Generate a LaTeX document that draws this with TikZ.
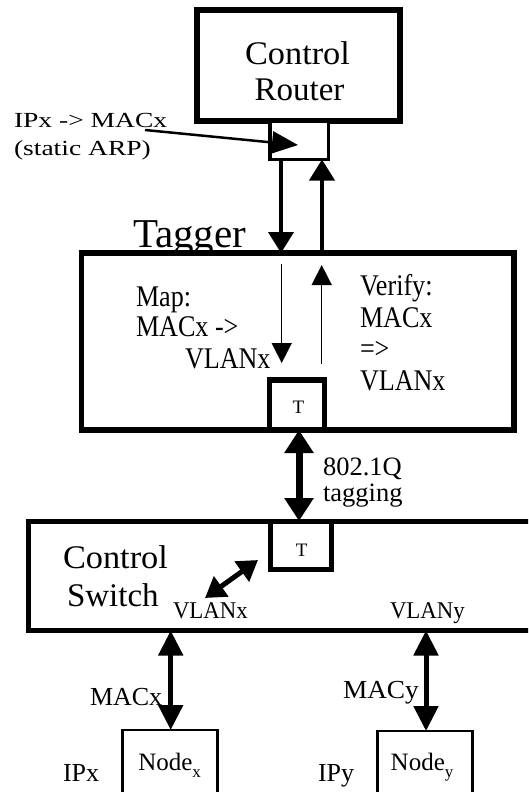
\documentclass[tikz,border=0pt]{standalone}
\usepackage{fontspec}
\usepackage{graphicx}
\setmainfont{Liberation Serif}
\usetikzlibrary{arrows.meta}
\newcommand{\myfs}[1]{\fontsize{#1}{#1}\selectfont}
\newcommand{\hsc}[2]{\scalebox{#1}[1]{#2}}
\newcommand{\mysub}[1]{\raisebox{-0.28em}{\fontsize{17}{17}\selectfont #1}}
\begin{document}
\begin{tikzpicture}[x=1pt,y=-1pt,
  frame/.style={draw, line width=#1, inner sep=0pt, outer sep=0pt, fill=white},
  lbl/.style={inner sep=0pt, outer sep=0pt, anchor=base west},
  clbl/.style={inner sep=0pt, outer sep=0pt, anchor=base},
  bigarrow/.style={line width=4pt, -{Triangle[length=21pt,width=25pt]}},
  thinarrow/.style={line width=1.5pt, -{Triangle[length=20pt,width=20pt]}},
  dblarrow/.style={line width=#1, {Triangle[length=23pt,width=28pt]}-{Triangle[length=23pt,width=28pt]}}
]
\useasboundingbox (0,0) rectangle (528,792);
\clip (0,0) rectangle (528,792);
\fill[white] (0,0) rectangle (528,792);

% boxes
\node[frame=5.5pt, minimum width=203pt, minimum height=111pt] (router) at (298.5,65.5) {};
\node[frame=3.5pt, minimum width=58.5pt, minimum height=38.5pt] (rport) at (299.25,140.25) {};
\node[frame=5.5pt, minimum width=432.5pt, minimum height=177pt] (tagger) at (297.75,341.5) {};
\node[frame=5.5pt, minimum width=55pt, minimum height=50pt] (tagT) at (297.2,405) {};
\node[frame=5pt, minimum width=511.5pt, minimum height=109.5pt] (switch) at (284.25,575.75) {};
\node[frame=5pt, minimum width=61pt, minimum height=48pt] (swT) at (300.5,545) {};
\node[frame=2.5pt, minimum width=95.4pt, minimum height=70pt] (nodeX) at (170,765) {};
\node[frame=2.5pt, minimum width=95pt, minimum height=69pt] (nodeY) at (424.8,765.5) {};

% texts
\node[clbl] (rt1) at (297.5,64.3) {\myfs{33}\hsc{1.04}{Control}};
\node[clbl] (rt2) at (299.5,100) {\myfs{33}Router};
\node[lbl] (arp1) at (14,127) {\myfs{21.5}\hsc{1.28}{IPx -> MACx}};
\node[lbl] (arp2) at (14,155) {\myfs{21.5}\hsc{1.28}{(static ARP)}};
\node[lbl] (tg) at (133,247) {\myfs{41}Tagger};
\node[lbl] (map1) at (136,306.7) {\myfs{30}\hsc{0.87}{Map:}};
\node[lbl] (map2) at (136,336.7) {\myfs{30}\hsc{0.87}{MACx ->}};
\node[lbl] (map3) at (185,368) {\myfs{30}\hsc{0.87}{VLANx}};
\node[lbl] (ver1) at (360,295) {\myfs{30}\hsc{0.87}{Verify:}};
\node[lbl] (ver2) at (360,327.7) {\myfs{30}\hsc{0.87}{MACx}};
\node[lbl] (ver3) at (360,358) {\myfs{30}\hsc{0.87}{=>}};
\node[lbl] (ver4) at (360,390) {\myfs{30}\hsc{0.87}{VLANx}};
\node[clbl] (tT) at (298.3,413) {\myfs{19}T};
\node[clbl] (sT) at (301.7,556.5) {\myfs{19}T};
\node[lbl] (q1) at (323,475) {\myfs{26.5}802.1Q};
\node[lbl] (q2) at (323,501) {\myfs{26.5}tagging};
\node[lbl] (cs1) at (63,568) {\myfs{33}\hsc{1.04}{Control}};
\node[lbl] (cs2) at (67,606.7) {\myfs{33}Switch};
\node[lbl] (vx) at (173,618) {\myfs{24}\hsc{0.95}{VLANx}};
\node[lbl] (vy) at (390,618) {\myfs{24}\hsc{0.95}{VLANy}};
\node[lbl] (mx) at (90,705) {\myfs{26}MACx};
\node[lbl] (my) at (343,698.5) {\myfs{26}\hsc{1.05}{MACy}};
\node[lbl] (nx) at (138.3,770) {\myfs{25}Node\mysub{x}};
\node[lbl] (ny) at (390.7,770) {\myfs{25}Node\mysub{y}};
\node[lbl] (ipx) at (63,781.7) {\myfs{26}IPx};
\node[lbl] (ipy) at (318,781.7) {\myfs{26}IPy};

% connectors
\coordinate (arpS) at (145,130);
\coordinate (arpE) at (298,145);
\draw[line width=2.5pt, -{Triangle[length=26pt,width=22pt]}] (arpS) -- (arpE);

\coordinate (xd) at (281,0);
\coordinate (xu) at (322,0);
\draw[bigarrow] (rport.south -| xd) -- (tagger.north -| xd);
\draw[bigarrow] (tagger.north -| xu) -- (rport.south -| xu);

\coordinate (md1) at (281.7,264);
\coordinate (md2) at (281.7,363);
\coordinate (vu1) at (321.7,364);
\coordinate (vu2) at (321.7,265);
\draw[thinarrow] (md1) -- (md2);
\draw[thinarrow] (vu1) -- (vu2);

\coordinate (xq) at (299,0);
\draw[dblarrow=7pt] (tagger.south -| xq) -- (switch.north -| xq);

\coordinate (dg1) at (258,560);
\coordinate (dg2) at (205,598);
\draw[line width=5pt, {Triangle[length=20pt,width=24pt]}-{Triangle[length=20pt,width=24pt]}] (dg1) -- (dg2);

\coordinate (xx) at (170.7,0);
\coordinate (xy) at (426,0);
\draw[line width=5pt, {Triangle[length=25pt,width=24pt]}-{Triangle[length=25pt,width=24pt]}] (switch.south -| xx) -- (nodeX.north -| xx);
\draw[line width=5pt, {Triangle[length=25pt,width=24pt]}-{Triangle[length=25pt,width=24pt]}] (switch.south -| xy) -- (nodeY.north -| xy);
\end{tikzpicture}
\end{document}
